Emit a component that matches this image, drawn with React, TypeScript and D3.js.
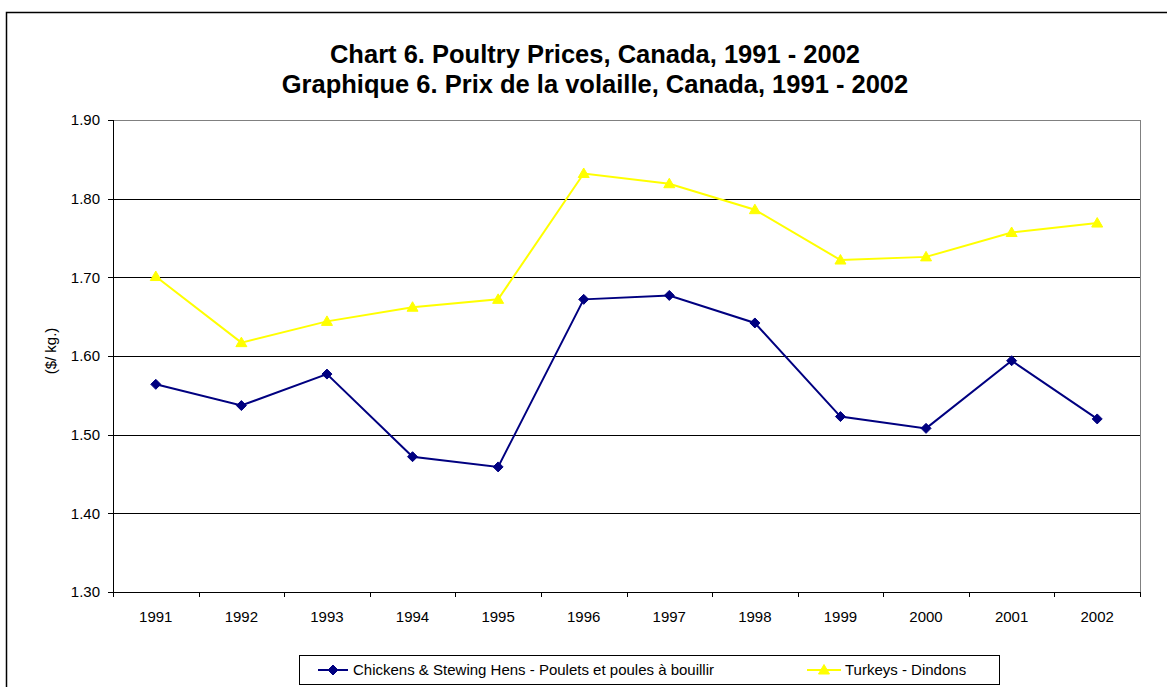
import React from "react";
import * as d3 from "d3";

const years = ["1991","1992","1993","1994","1995","1996","1997","1998","1999","2000","2001","2002"];
const chickens = [1.564,1.537,1.577,1.472,1.459,1.672,1.677,1.642,1.523,1.508,1.594,1.520];
const turkeys = [1.701,1.617,1.644,1.662,1.672,1.832,1.819,1.786,1.722,1.726,1.757,1.769];
const yTicks = [1.3,1.4,1.5,1.6,1.7,1.8,1.9];
const titleLines = ["Chart 6. Poultry Prices, Canada, 1991 - 2002","Graphique 6. Prix de la volaille, Canada, 1991 - 2002"];
const yLabel = "($/ kg.)";
const seriesNames = ["Chickens & Stewing Hens - Poulets et poules à bouillir","Turkeys - Dindons"];

const W = 1167, H = 687;
const plot = { left: 113, right: 1140, top: 120, bottom: 592 };
const font = "Arial, 'Liberation Sans', sans-serif";

export default function App() {
  const x = d3.scaleBand().domain(years).range([plot.left, plot.right]).padding(0);
  const y = d3.scaleLinear().domain([1.3, 1.9]).range([plot.bottom, plot.top]);
  const cx = (yr: string) => (x(yr) as number) + x.bandwidth() / 2;
  const line = d3.line<number>().x((_, i) => cx(years[i])).y((d) => y(d));
  const diamond = "M0,-5L5,0L0,5L-5,0Z";
  const tri = "M0,-5.5L5.5,4L-5.5,4Z";
  const boundaries = years.map((yr) => x(yr) as number).concat([plot.right]);

  return (
    <svg width={W} height={H} style={{ position: "absolute", left: 0, top: 0, background: "#fff" }} fontFamily={font}>
      <rect x={6.5} y={12.5} width={1200} height={700} fill="#fff" stroke="#000" strokeWidth={1.5} />
      {titleLines.map((t, i) => (
        <text key={i} x={595} y={63 + i * 30} textAnchor="middle" fontSize={25.5} fontWeight="bold" fill="#000">{t}</text>
      ))}
      {yTicks.slice(1, -1).map((v) => (
        <line key={v} x1={plot.left} x2={plot.right} y1={Math.round(y(v)) + 0.5} y2={Math.round(y(v)) + 0.5} stroke="#000" strokeWidth={1} />
      ))}
      <rect x={plot.left + 0.5} y={plot.top + 0.5} width={plot.right - plot.left} height={plot.bottom - plot.top} fill="none" stroke="#808080" strokeWidth={1} />
      <line x1={plot.left + 0.5} x2={plot.left + 0.5} y1={plot.top} y2={plot.bottom + 1} stroke="#000" strokeWidth={1} />
      <line x1={plot.left} x2={plot.right + 1} y1={plot.bottom + 0.5} y2={plot.bottom + 0.5} stroke="#000" strokeWidth={1} />
      {yTicks.map((v) => (
        <g key={v}>
          <line x1={plot.left - 5} x2={plot.left} y1={Math.round(y(v)) + 0.5} y2={Math.round(y(v)) + 0.5} stroke="#000" />
          <text x={100} y={y(v)} dy="0.35em" textAnchor="end" fontSize={15} fill="#000">{v.toFixed(2)}</text>
        </g>
      ))}
      {boundaries.map((b, i) => (
        <line key={i} x1={Math.round(b) + 0.5} x2={Math.round(b) + 0.5} y1={plot.bottom} y2={plot.bottom + 5} stroke="#000" />
      ))}
      {years.map((yr) => (
        <text key={yr} x={cx(yr)} y={622} textAnchor="middle" fontSize={15} fill="#000">{yr}</text>
      ))}
      <text transform={`translate(56,${351}) rotate(-90)`} textAnchor="middle" fontSize={15} fill="#000">{yLabel}</text>
      <path d={line(turkeys) || ""} fill="none" stroke="#FFFF00" strokeWidth={2} />
      {turkeys.map((v, i) => (
        <path key={i} d={tri} transform={`translate(${cx(years[i])},${y(v)})`} fill="#FFFF00" stroke="#FFFF00" />
      ))}
      <path d={line(chickens) || ""} fill="none" stroke="#000080" strokeWidth={2} />
      {chickens.map((v, i) => (
        <path key={i} d={diamond} transform={`translate(${cx(years[i])},${y(v)})`} fill="#000080" stroke="#000080" />
      ))}
      <rect x={299.5} y={655.5} width={700} height={29} fill="#fff" stroke="#000" strokeWidth={1} />
      <line x1={318} x2={348} y1={670} y2={670} stroke="#000080" strokeWidth={2} />
      <path d={diamond} transform="translate(333,670)" fill="#000080" stroke="#000080" />
      <text x={353} y={670} dy="0.35em" fontSize={15} fill="#000">{seriesNames[0]}</text>
      <line x1={807} x2={841} y1={670} y2={670} stroke="#FFFF00" strokeWidth={2} />
      <path d={tri} transform="translate(824,670)" fill="#FFFF00" stroke="#FFFF00" />
      <text x={845} y={670} dy="0.35em" fontSize={15} fill="#000">{seriesNames[1]}</text>
    </svg>
  );
}
